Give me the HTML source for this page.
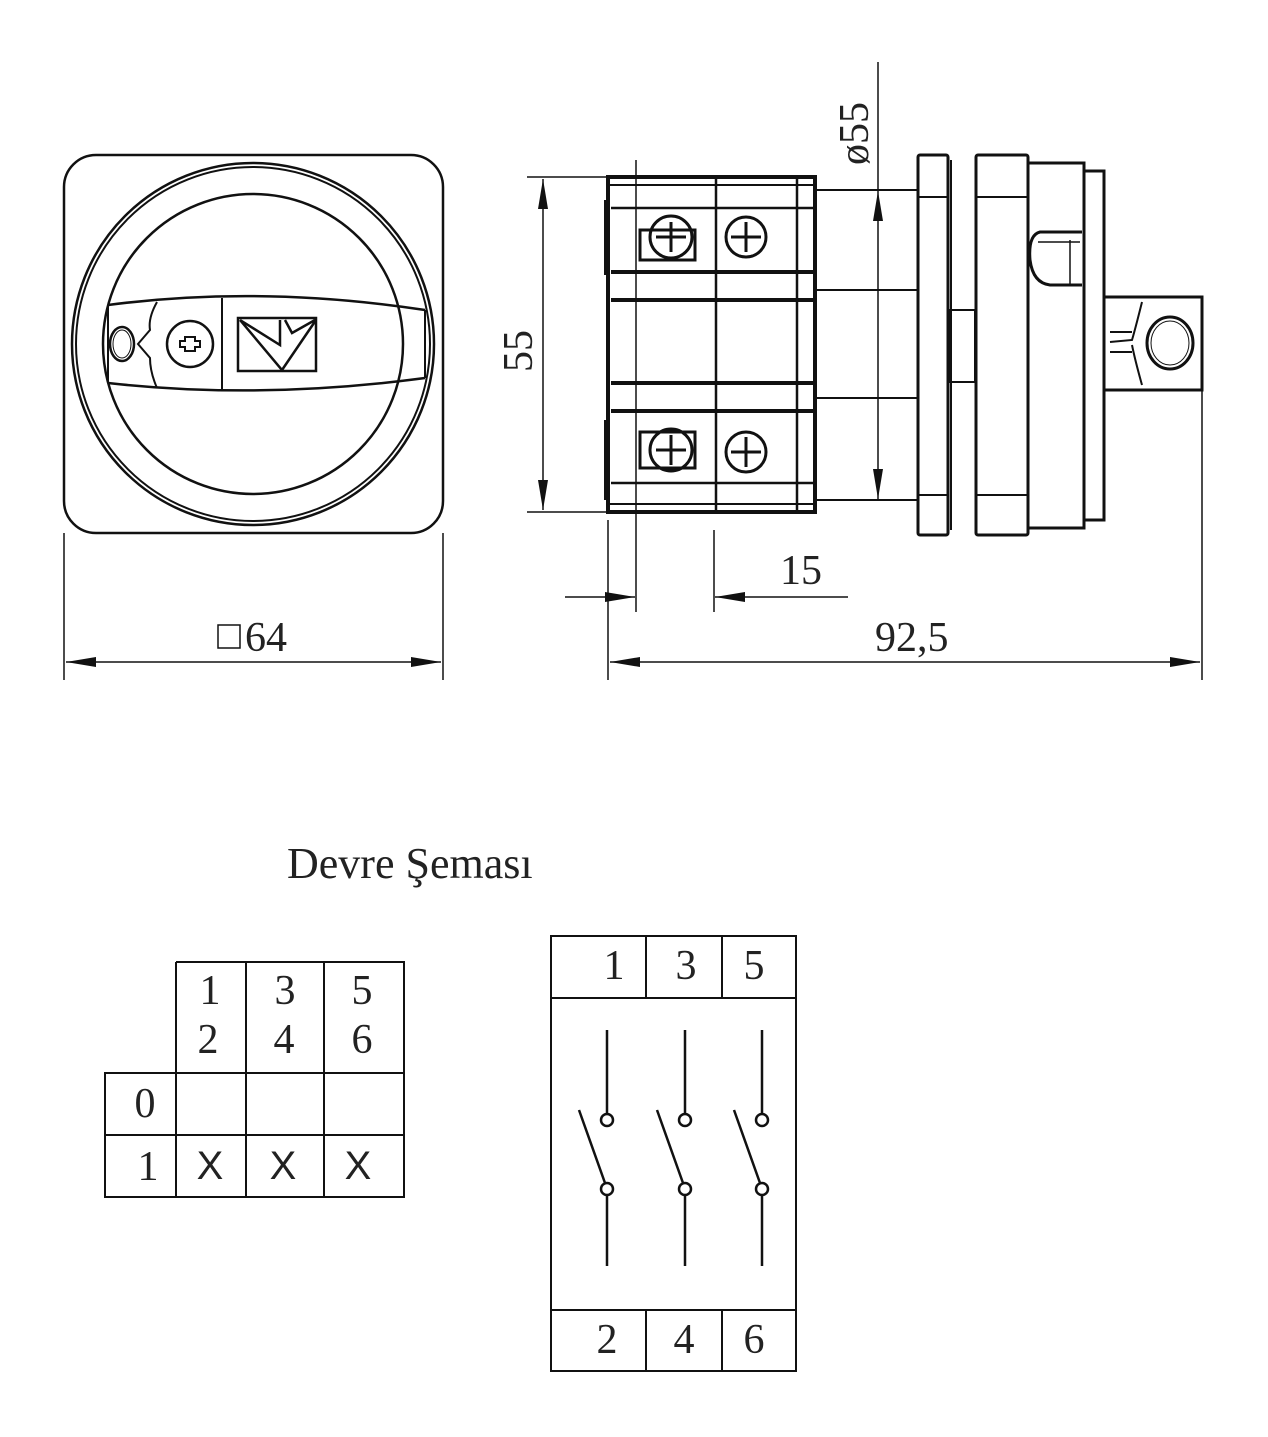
<!DOCTYPE html>
<html><head><meta charset="utf-8"><style>
html,body{margin:0;padding:0;background:#fff}
svg{display:block}
text{font-family:"Liberation Serif",serif;fill:#222}
</style></head><body>
<svg width="1268" height="1437" viewBox="0 0 1268 1437" xmlns="http://www.w3.org/2000/svg">
<defs>
<marker id="ah" viewBox="0 0 30 10" refX="30" refY="5" markerWidth="30" markerHeight="10" markerUnits="userSpaceOnUse" orient="auto"><path d="M0,0 L30,5 L0,10 Z" fill="#111"/></marker>
</defs>
<g fill="none" stroke="#111" stroke-width="2">
<!-- FRONT VIEW -->
<rect x="64" y="155" width="379" height="378" rx="32" stroke-width="2.5"/>
<circle cx="253" cy="344" r="181" stroke-width="2.5"/>
<circle cx="253" cy="344" r="177"/>
<circle cx="253" cy="344" r="150" stroke-width="2.5"/>
<path d="M108,305 Q260,285 425,310 M108,383 Q260,400 425,378" stroke-width="2.5"/>
<path d="M108,305 L108,383 M425,310 L425,378"/>
<line x1="222" y1="298" x2="222" y2="391"/>
<path d="M157,302 Q148,318 150,330 L138,344 L150,358 Q150,372 157,388"/>
<ellipse cx="122" cy="344" rx="12" ry="17" stroke-width="2.5"/>
<ellipse cx="122" cy="344" rx="9" ry="14" stroke-width="1"/>
<circle cx="190" cy="344" r="23" stroke-width="2.5"/>
<path d="M185,337 h10 v4 h5 v6 h-5 v4 h-10 v-4 h-5 v-6 h5 z" stroke-width="2"/>
<rect x="238" y="318" width="78" height="53" stroke-width="2.5"/>
<path d="M240,320 L282,370 L316,320 M240,320 L280,345 L280,320 M285,320 L292,333 L315,320" stroke-width="2.5"/>
<!-- front dims -->
<line x1="64" y1="533" x2="64" y2="680" stroke-width="1.5"/>
<line x1="443" y1="533" x2="443" y2="680" stroke-width="1.5"/>
<line x1="253" y1="662" x2="66" y2="662" stroke-width="1.5" marker-end="url(#ah)"/>
<line x1="253" y1="662" x2="441" y2="662" stroke-width="1.5" marker-end="url(#ah)"/>
<rect x="218" y="625" width="22" height="23" stroke-width="1.5"/>

<!-- SIDE VIEW body -->
<rect x="608" y="177" width="207" height="335" stroke-width="4"/>
<line x1="608" y1="185" x2="815" y2="185"/>
<line x1="608" y1="504" x2="815" y2="504"/>
<line x1="611" y1="208" x2="815" y2="208" stroke-width="2.5"/>
<line x1="611" y1="272" x2="815" y2="272" stroke-width="4"/>
<line x1="611" y1="300" x2="815" y2="300" stroke-width="4"/>
<line x1="611" y1="383" x2="815" y2="383" stroke-width="4"/>
<line x1="611" y1="411" x2="815" y2="411" stroke-width="4"/>
<line x1="611" y1="483" x2="815" y2="483" stroke-width="2.5"/>
<line x1="636" y1="160" x2="636" y2="612" stroke-width="1.5"/>
<line x1="716" y1="177" x2="716" y2="512" stroke-width="2.5"/>
<line x1="797" y1="177" x2="797" y2="512" stroke-width="2.5"/>
<path d="M606,200 V275 M606,420 V500" stroke-width="4"/>
<g stroke-width="3">
<rect x="640" y="230" width="55" height="30"/>
<circle cx="671" cy="237" r="21"/><path d="M671,222 v30 M656,237 h30"/>
<circle cx="746" cy="237" r="20"/><path d="M746,222 v30 M731,237 h30"/>
<rect x="640" y="432" width="55" height="36"/>
<circle cx="671" cy="450" r="21"/><path d="M671,435 v30 M656,450 h30"/>
<circle cx="746" cy="452" r="20"/><path d="M746,437 v30 M731,452 h30"/>
</g>
<!-- connecting lines -->
<path d="M815,190 H918 M815,290 H918 M815,398 H918 M815,500 H918" stroke-width="2"/>
<!-- flange 1 -->
<rect x="918" y="155" width="30" height="380" rx="2" stroke-width="3"/>
<line x1="951" y1="160" x2="951" y2="530"/>
<line x1="918" y1="197" x2="948" y2="197"/>
<line x1="918" y1="495" x2="948" y2="495"/>
<rect x="950" y="310" width="25" height="72"/>
<!-- flange 2 -->
<rect x="976" y="155" width="52" height="380" rx="2" stroke-width="3"/>
<line x1="976" y1="197" x2="1028" y2="197"/>
<line x1="976" y1="495" x2="1028" y2="495"/>
<rect x="1028" y="163" width="56" height="365" stroke-width="3"/>
<rect x="1084" y="171" width="20" height="349" stroke-width="3"/>
<path d="M1082,232 H1040 Q1028,235 1030,260 Q1033,283 1050,285 H1082" stroke-width="3"/>
<path d="M1038,242 H1080 M1070,240 V285" stroke-width="1.5"/>
<!-- handle -->
<path d="M1104,297 H1202 V390 H1104" stroke-width="3"/>
<path d="M1142,302 Q1135,330 1132,340 L1110,342 M1142,385 Q1135,360 1132,345" stroke-width="2"/>
<line x1="1110" y1="332" x2="1132" y2="332"/><line x1="1110" y1="352" x2="1132" y2="352"/>
<ellipse cx="1170" cy="343" rx="23" ry="26" stroke-width="3"/>
<ellipse cx="1170" cy="343" rx="19" ry="22" stroke-width="1"/>

<!-- side dims -->
<line x1="527" y1="177" x2="608" y2="177" stroke-width="1.5"/>
<line x1="527" y1="512" x2="608" y2="512" stroke-width="1.5"/>
<line x1="543" y1="345" x2="543" y2="179" stroke-width="1.5" marker-end="url(#ah)"/>
<line x1="543" y1="345" x2="543" y2="510" stroke-width="1.5" marker-end="url(#ah)"/>
<line x1="878" y1="62" x2="878" y2="190" stroke-width="1.5"/>
<line x1="878" y1="345" x2="878" y2="191" stroke-width="1.5" marker-end="url(#ah)"/>
<line x1="878" y1="345" x2="878" y2="499" stroke-width="1.5" marker-end="url(#ah)"/>
<line x1="608" y1="520" x2="608" y2="680" stroke-width="1.5"/>
<line x1="714" y1="530" x2="714" y2="612" stroke-width="1.5"/>
<line x1="1202" y1="390" x2="1202" y2="680" stroke-width="1.5"/>
<line x1="565" y1="597" x2="635" y2="597" stroke-width="1.5" marker-end="url(#ah)"/>
<line x1="848" y1="597" x2="715" y2="597" stroke-width="1.5" marker-end="url(#ah)"/>
<line x1="900" y1="662" x2="610" y2="662" stroke-width="1.5" marker-end="url(#ah)"/>
<line x1="900" y1="662" x2="1200" y2="662" stroke-width="1.5" marker-end="url(#ah)"/>

<!-- LEFT TABLE -->
<path d="M176,962 H404 V1197 H105 V1073 H404 M105,1135 H404 M176,962 V1197 M246,962 V1197 M324,962 V1197" stroke-width="2"/>
<!-- RIGHT DIAGRAM -->
<rect x="551" y="936" width="245" height="435" stroke-width="2"/>
<path d="M551,998 H796 M551,1310 H796 M646,936 V998 M722,936 V998 M646,1310 V1371 M722,1310 V1371" stroke-width="2"/>
<g stroke-width="2.5">
<path d="M607,1030 V1113 M607,1196 V1266 M579,1110 L605,1183"/>
<circle cx="607" cy="1120" r="6"/><circle cx="607" cy="1189" r="6"/>
<path d="M685,1030 V1113 M685,1196 V1266 M657,1110 L683,1183"/>
<circle cx="685" cy="1120" r="6"/><circle cx="685" cy="1189" r="6"/>
<path d="M762,1030 V1113 M762,1196 V1266 M734,1110 L760,1183"/>
<circle cx="762" cy="1120" r="6"/><circle cx="762" cy="1189" r="6"/>
</g>
</g>
<g font-size="42">
<text x="245" y="651">64</text>
<text x="780" y="584">15</text>
<text x="875" y="651">92,5</text>
<text transform="translate(532,372) rotate(-90)">55</text>
<text transform="translate(868,165) rotate(-90)">ø55</text>
<text x="287" y="878" font-size="44">Devre Şeması</text>
<text x="210" y="1004" text-anchor="middle">1</text>
<text x="208" y="1053" text-anchor="middle">2</text>
<text x="285" y="1004" text-anchor="middle">3</text>
<text x="284" y="1053" text-anchor="middle">4</text>
<text x="362" y="1004" text-anchor="middle">5</text>
<text x="362" y="1053" text-anchor="middle">6</text>
<text x="145" y="1117" text-anchor="middle">0</text>
<text x="148" y="1180" text-anchor="middle">1</text>
<text x="614" y="979" text-anchor="middle">1</text>
<text x="686" y="979" text-anchor="middle">3</text>
<text x="754" y="979" text-anchor="middle">5</text>
<text x="607" y="1353" text-anchor="middle">2</text>
<text x="684" y="1353" text-anchor="middle">4</text>
<text x="754" y="1353" text-anchor="middle">6</text>
</g>
<g font-size="40">
<text x="210" y="1179" text-anchor="middle" style="font-family:'Liberation Sans',sans-serif">X</text>
<text x="283" y="1179" text-anchor="middle" style="font-family:'Liberation Sans',sans-serif">X</text>
<text x="358" y="1179" text-anchor="middle" style="font-family:'Liberation Sans',sans-serif">X</text>
</g>
</svg>
</body></html>
